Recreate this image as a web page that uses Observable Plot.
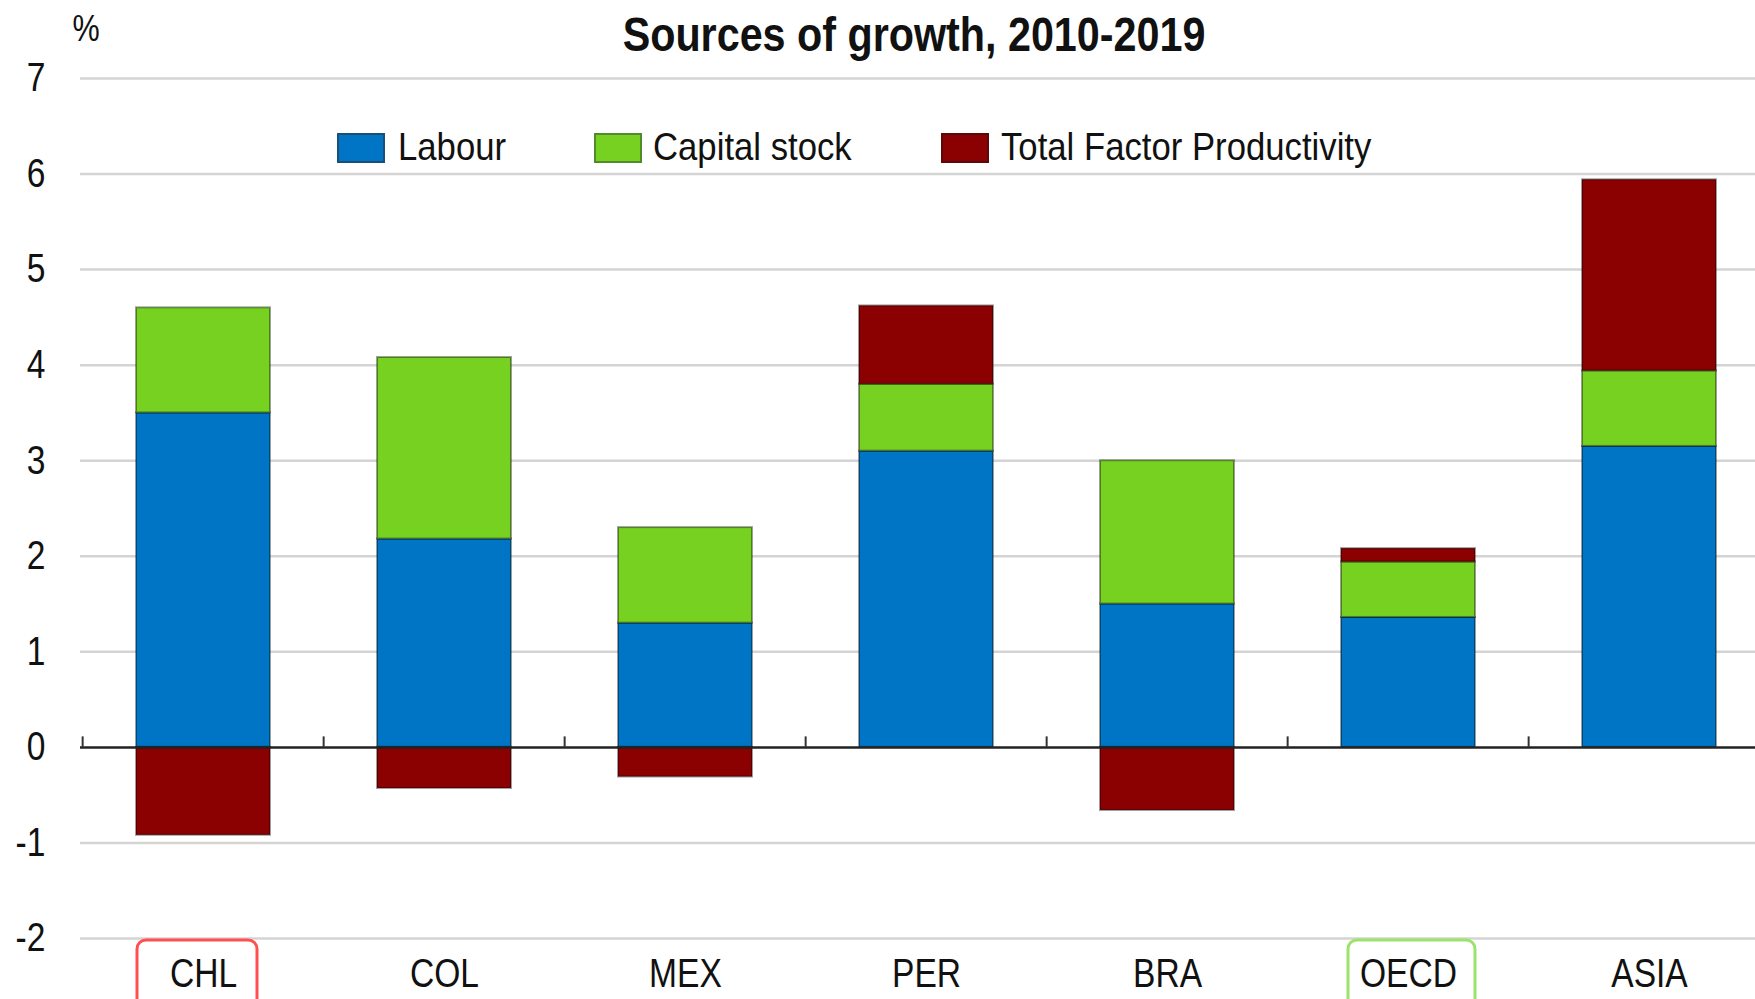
<!DOCTYPE html>
<html>
<head>
<meta charset="utf-8">
<script src="https://cdn.jsdelivr.net/npm/d3@7"></script>
<script src="https://cdn.jsdelivr.net/npm/@observablehq/plot@0.6"></script>
<style>
  body { margin: 0; background: #fff; }
  #wrap { position: relative; width: 1755px; height: 999px; overflow: hidden;
          font-family: "Liberation Sans Narrow", "Arial Narrow", "Liberation Sans", Arial, sans-serif; color: #111; }
  .t { position: absolute; line-height: 1; white-space: nowrap; }
  #title { left: 914px; top: 11px; transform: translateX(-50%) scaleX(0.86); font-size: 48px; font-weight: bold; }
  #pct { left: 86px; top: 11px; transform: translateX(-50%) scaleX(0.85); font-size: 36px; }
  .sw { position: absolute; top: 133px; width: 48px; height: 30px; box-sizing: border-box; border: 2px solid; }
  .lg { top: 127px; font-size: 39px; transform-origin: 0 0; transform: scaleX(0.89); }
  #chart { position: absolute; left: 0; top: 0; }
</style>
</head>
<body>
<div id="wrap">
  <div id="chart"></div>
  <div class="t" id="title">Sources of growth, 2010-2019</div>
  <div class="t" id="pct">%</div>
  <div class="sw" style="left:337px;background:#0075c6;border-color:#1a4f78"></div>
  <div class="t lg" style="left:398px">Labour</div>
  <div class="sw" style="left:594px;background:#76d120;border-color:#4f8a2b"></div>
  <div class="t lg" style="left:653px">Capital stock</div>
  <div class="sw" style="left:941px;background:#8b0000;border-color:#5a0a0a"></div>
  <div class="t lg" style="left:1001px">Total Factor Productivity</div>
</div>
<script>
const categories = ["CHL", "COL", "MEX", "PER", "BRA", "OECD", "ASIA"];
const seriesNames = ["Labour", "Capital stock", "Total Factor Productivity"];
const labour  = [3.50, 2.18, 1.30, 3.10, 1.50, 1.36, 3.15];
const capital = [1.10, 1.90, 1.00, 0.70, 1.50, 0.58, 0.79];
const tfp     = [-0.92, -0.43, -0.31, 0.82, -0.66, 0.14, 2.00];
const yTicks = [-2, -1, 0, 1, 2, 3, 4, 5, 6, 7];
const seriesColors = ["#0075c6", "#76d120", "#8b0000"];

const table = [];
[labour, capital, tfp].forEach((vals, s) => {
  categories.forEach((c, i) => table.push({cat: c, series: seriesNames[s], value: vals[i]}));
});

const W = 1755, H = 999;
const xRange = [80, 1772];
const step = (xRange[1] - xRange[0]) / categories.length;
const fontFam = '"Liberation Sans Narrow", "Arial Narrow", "Liberation Sans", Arial, sans-serif';

const chart = Plot.plot({
  width: W,
  height: H,
  marginTop: 78,
  marginBottom: 61,
  marginLeft: 80,
  marginRight: 0,
  style: {fontFamily: fontFam, fontSize: "40px", color: "#111", background: "#fff"},
  x: {type: "band", domain: categories, range: xRange, paddingInner: 0.446, paddingOuter: 0.223},
  y: {domain: [-2, 7]},
  color: {domain: seriesNames, range: seriesColors},
  marks: [
    Plot.gridY(yTicks.filter(d => d !== 0), {stroke: "#d4d4d4", strokeOpacity: 1, strokeWidth: 2.5}),
    Plot.barY(table, Plot.stackY({x: "cat", y: "value", fill: "series", stroke: "#000", strokeOpacity: 0.38, strokeWidth: 2})),
    Plot.ruleY([0], {stroke: "#222", strokeWidth: 2.5}),
    Plot.ruleX(categories, {x: d => d, y1: 0, y2: 0.11, dx: -step / 2, stroke: "#333", strokeWidth: 2}),
    Plot.axisY({ticks: yTicks, tickSize: 0, tickPadding: 35, label: null, fontSize: 40, tickFormat: d => String(d)}),
    Plot.axisX({tickSize: 0, tickPadding: 20, label: null, fontSize: 40}),
    Plot.barY(["CHL"], {x: d => d, y1: -2.02, y2: -2.9, fill: "none", stroke: "#ff5050", strokeWidth: 3, rx: 9, insetLeft: 1, insetRight: 13}),
    Plot.barY(["OECD"], {x: d => d, y1: -2.02, y2: -2.9, fill: "none", stroke: "#9be36a", strokeWidth: 3, rx: 9, insetLeft: 7, insetRight: 0})
  ]
});
// narrow the fallback font to imitate the condensed original typeface
d3.select(chart).selectAll('g[aria-label="x-axis tick label"] text, g[aria-label="y-axis tick label"] text')
  .attr("transform", function() { return (this.getAttribute("transform") || "") + " scale(0.84,1)"; });
document.getElementById("chart").appendChild(chart);
</script>
</body>
</html>
